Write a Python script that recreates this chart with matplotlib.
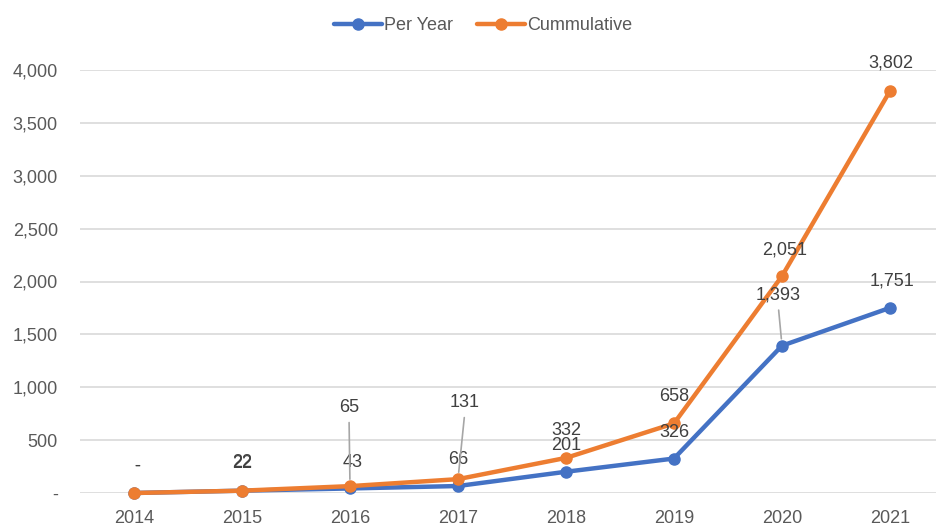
import matplotlib
matplotlib.use("Agg")
import matplotlib.pyplot as plt
from matplotlib.ticker import FuncFormatter

plt.rcParams['font.family'] = ['Liberation Sans', 'DejaVu Sans']

years = ["2014", "2015", "2016", "2017", "2018", "2019", "2020", "2021"]
per_year = [0, 22, 43, 66, 201, 326, 1393, 1751]
cumulative = [0, 22, 65, 131, 332, 658, 2051, 3802]
y_ticks = [0, 500, 1000, 1500, 2000, 2500, 3000, 3500, 4000]

BLUE = "#4472C4"
ORANGE = "#ED7D31"
LABEL_C = "#404040"
TICK_C = "#595959"
GRID_C = "#D9D9D9"


def acct(v):
    return "-" if v == 0 else f"{v:,.0f}"


fig = plt.figure(figsize=(9.36, 5.26), dpi=100)
ax = fig.add_axes([80 / 936, 1 - 493 / 526, 864 / 936, 423 / 526])

x = list(range(len(years)))
ax.plot(x, per_year, color=BLUE, lw=3.2, marker="o", ms=8, label="Per Year",
        solid_capstyle="round", zorder=3, clip_on=False)
ax.plot(x, cumulative, color=ORANGE, lw=3.2, marker="o", ms=8, label="Cummulative",
        solid_capstyle="round", zorder=4, clip_on=False)

ax.set_xlim(-0.5, len(years) - 0.5)
ax.set_ylim(0, 4000)
ax.set_yticks(y_ticks)
ax.yaxis.set_major_formatter(FuncFormatter(lambda v, p: acct(v)))
ax.set_xticks(x)
ax.set_xticklabels(years)
ax.grid(axis="y", color=GRID_C, lw=1.2)
ax.set_axisbelow(True)
for s in ax.spines.values():
    s.set_visible(False)
ax.tick_params(axis="both", length=0, labelsize=13, colors=TICK_C)
ax.tick_params(axis="y", pad=16)
ax.tick_params(axis="x", pad=12)

# data labels: (dx, dy) offsets in pixels from the point, leader line flag
per_off = [(3, 27), (0, 27), (3, 26), (0, 27), (0, 26), (0, 26), (-4, 51), (2, 27)]
per_lead = [False, False, False, False, False, False, True, False]
cum_off = [(3, 27), (0, 28), (-1, 79), (7, 77), (0, 27), (0, 27), (3, 26), (1, 28)]
cum_lead = [False, False, True, True, False, False, False, False]

for vals, offs, leads in ((per_year, per_off, per_lead), (cumulative, cum_off, cum_lead)):
    for i, v in enumerate(vals):
        dx, dy = offs[i]
        kw = {}
        if leads[i]:
            kw["arrowprops"] = dict(arrowstyle="-", color="#A6A6A6", lw=1.2,
                                    shrinkA=3, shrinkB=5, relpos=(0.5, 0.0))
        ax.annotate(acct(v), (i, v), xytext=(dx, dy), textcoords="offset pixels",
                    ha="center", va="center", fontsize=13, color=LABEL_C,
                    annotation_clip=False, zorder=5, **kw)

fig.legend(loc="center", bbox_to_anchor=(0.516, 1 - 26 / 526), ncol=2, frameon=False,
           fontsize=13, handlelength=2.7, handletextpad=0.1, columnspacing=1.3,
           labelcolor=TICK_C)

fig.savefig("out.png", dpi=100)
